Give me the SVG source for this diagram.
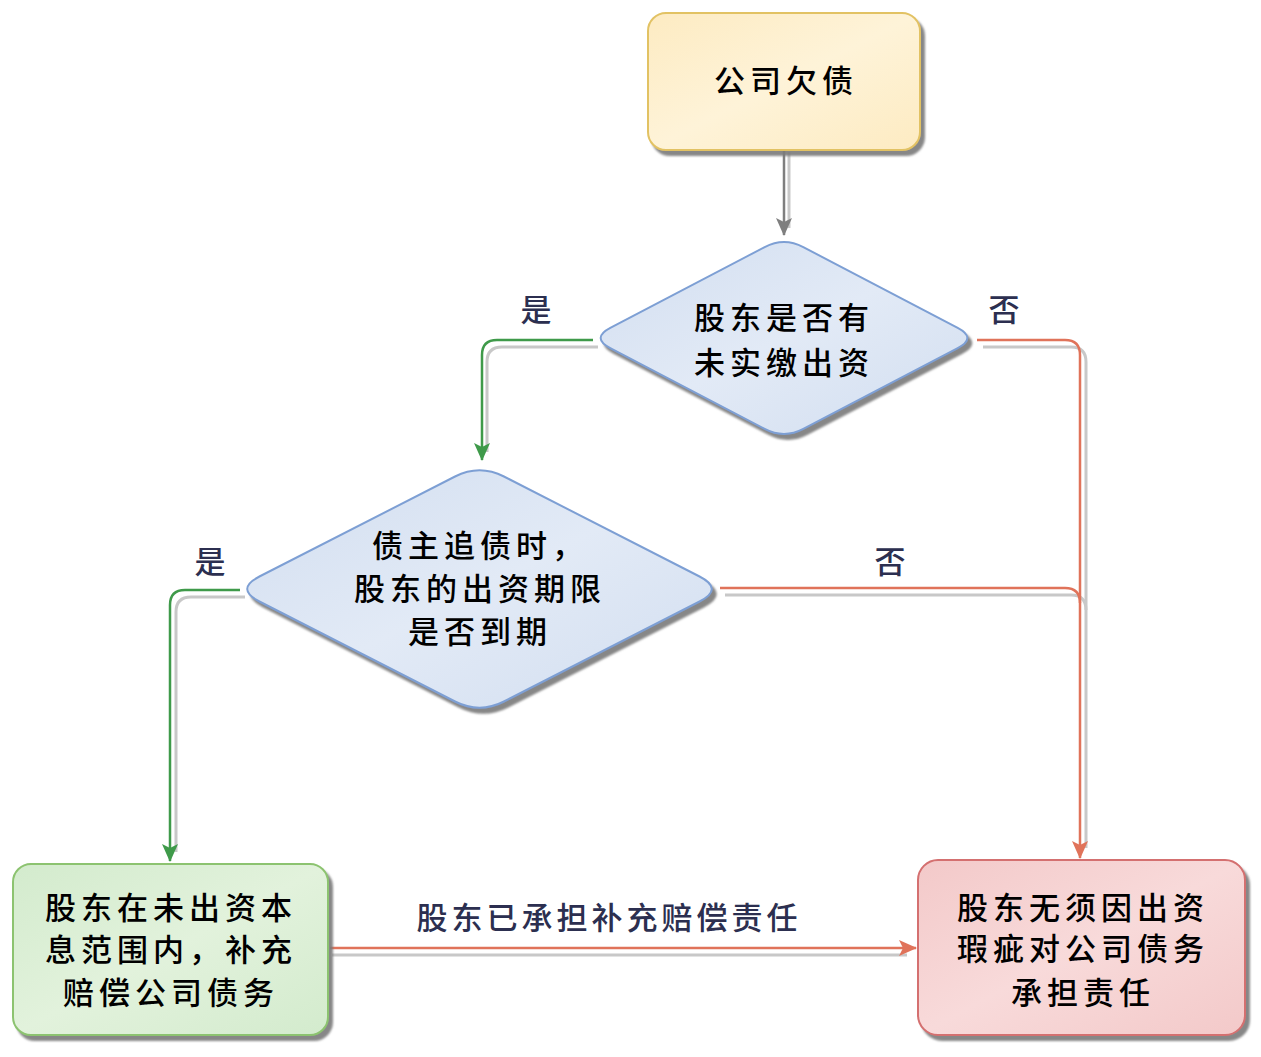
<svg xmlns="http://www.w3.org/2000/svg" width="1261" height="1057" viewBox="0 0 1261 1057">
<defs>
<style>
.t{font-family:"Noto Sans CJK SC","Noto Sans CJK TC",sans-serif;font-size:31px;font-weight:500;fill:#000;text-anchor:middle;letter-spacing:5px}
.lb{font-family:"Noto Sans CJK SC","Noto Sans CJK TC",sans-serif;font-size:31px;font-weight:500;fill:#2c2f50;text-anchor:middle;letter-spacing:4px}
.sh{fill:none;stroke:#c8c8c8;stroke-width:3}
.cg{fill:none;stroke:#3f9a4a;stroke-width:2.5}
.cr{fill:none;stroke:#e0735a;stroke-width:2.5}
.cy{fill:none;stroke:#7f7f7f;stroke-width:2.5}
</style>
<filter id="ds" x="-10%" y="-10%" width="125%" height="130%">
<feDropShadow dx="4" dy="5" stdDeviation="1.2" flood-color="#7a7a7a" flood-opacity="0.9"/>
</filter>
<linearGradient id="gy" x1="0" y1="0" x2="1" y2="1"><stop offset="0" stop-color="#fdebc2"/><stop offset="0.5" stop-color="#fef3d8"/><stop offset="1" stop-color="#fdebc2"/></linearGradient>
<linearGradient id="gb" x1="0" y1="0" x2="1" y2="1"><stop offset="0" stop-color="#d2def0"/><stop offset="0.5" stop-color="#e2eaf6"/><stop offset="1" stop-color="#d2def0"/></linearGradient>
<linearGradient id="gg" x1="0" y1="0" x2="1" y2="1"><stop offset="0" stop-color="#d3ebcd"/><stop offset="0.5" stop-color="#e2f2dc"/><stop offset="1" stop-color="#d3ebcd"/></linearGradient>
<linearGradient id="gr" x1="0" y1="0" x2="1" y2="1"><stop offset="0" stop-color="#f3c9c9"/><stop offset="0.5" stop-color="#f8dada"/><stop offset="1" stop-color="#f3c9c9"/></linearGradient>
<marker id="ar" markerWidth="18" markerHeight="18" refX="17" refY="9" orient="auto" markerUnits="userSpaceOnUse" viewBox="0 0 18 18"><path d="M0,1 L18,9 L0,17 L4,9 Z" fill="#e0735a"/></marker>
<marker id="agg" markerWidth="18" markerHeight="18" refX="17" refY="9" orient="auto" markerUnits="userSpaceOnUse" viewBox="0 0 18 18"><path d="M0,1 L18,9 L0,17 L4,9 Z" fill="#3f9a4a"/></marker>
<marker id="ay" markerWidth="18" markerHeight="18" refX="17" refY="9" orient="auto" markerUnits="userSpaceOnUse" viewBox="0 0 18 18"><path d="M0,1 L18,9 L0,17 L4,9 Z" fill="#7f7f7f"/></marker>
</defs>
<rect width="1261" height="1057" fill="#ffffff"/>

<g id="connectors">
<path class="sh" d="M789,152 V228"/>
<path class="sh" d="M598,347 H502 Q487,347 487,362 V452"/>
<path class="sh" d="M983,347 H1071 Q1086,347 1086,362 V848"/>
<path class="sh" d="M725,595 H1071 Q1086,595 1086,610"/>
<path class="sh" d="M245,597 H191 Q176,597 176,612 V852"/>
<path class="sh" d="M332,955 H907"/>
<path class="cy" d="M784,150 V235" marker-end="url(#ay)"/>
<path class="cg" d="M593,340 H497 Q482,340 482,355 V460" marker-end="url(#agg)"/>
<path class="cr" d="M977,340 H1065 Q1080,340 1080,355 V858" marker-end="url(#ar)"/>
<path class="cr" d="M720,588 H1065 Q1080,588 1080,603"/>
<path class="cg" d="M240,590 H185 Q170,590 170,605 V861" marker-end="url(#agg)"/>
<path class="cr" d="M330,948 H916" marker-end="url(#ar)"/>
<text class="lb" x="538" y="321">是</text>
<text class="lb" x="1006" y="321">否</text>
<text class="lb" x="212" y="573">是</text>
<text class="lb" x="892" y="573">否</text>
<text class="lb" x="609" y="929">股东已承担补充赔偿责任</text>
</g>

<g id="start">
<rect x="648" y="13" width="272" height="137" rx="18" fill="url(#gy)" stroke="#e2c264" stroke-width="2" filter="url(#ds)"/>
<text class="t" x="786" y="92">公司欠债</text>
</g>

<g id="decision1">
<path d="M610.3,327.9 L764.7,247.1 Q784,237 803.3,247.1 L957.7,327.9 Q977,338 957.7,348.1 L803.3,428.9 Q784,439 764.7,428.9 L610.3,348.1 Q591,338 610.3,327.9 Z" fill="url(#gb)" stroke="#7d9fd4" stroke-width="2" filter="url(#ds)"/>
<text class="t" x="784" y="329">股东是否有</text>
<text class="t" x="784" y="374">未实缴出资</text>
</g>

<g id="decision2">
<path d="M259.45,576.5 L455.05,476.5 Q479.5,464 503.95,476.5 L699.55,576.5 Q724,589 699.55,601.5 L503.95,701.5 Q479.5,714 455.05,701.5 L259.45,601.5 Q235,589 259.45,576.5 Z" fill="url(#gb)" stroke="#7d9fd4" stroke-width="2" filter="url(#ds)"/>
<text class="t" x="480" y="557">债主追债时，</text>
<text class="t" x="480" y="600">股东的出资期限</text>
<text class="t" x="480" y="643">是否到期</text>
</g>

<g id="supplement">
<rect x="13" y="864" width="315" height="171" rx="18" fill="url(#gg)" stroke="#8cc36f" stroke-width="2" filter="url(#ds)"/>
<text class="t" x="171" y="919">股东在未出资本</text>
<text class="t" x="171" y="961">息范围内，补充</text>
<text class="t" x="171" y="1004">赔偿公司债务</text>
</g>

<g id="noliability">
<rect x="918" y="860" width="327" height="175" rx="20" fill="url(#gr)" stroke="#d46f6f" stroke-width="2" filter="url(#ds)"/>
<text class="t" x="1083" y="919">股东无须因出资</text>
<text class="t" x="1083" y="960">瑕疵对公司债务</text>
<text class="t" x="1083" y="1004">承担责任</text>
</g>
</svg>
